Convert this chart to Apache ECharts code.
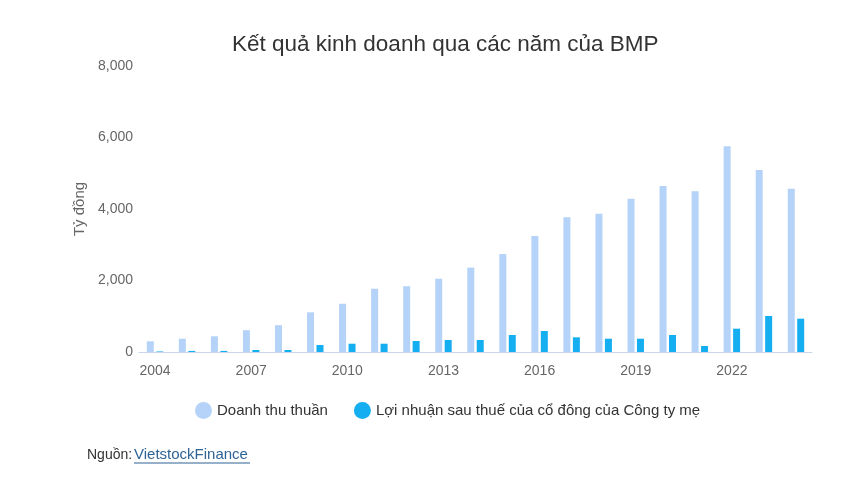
<!DOCTYPE html>
<html>
<head>
<meta charset="utf-8">
<script src="https://cdn.jsdelivr.net/npm/echarts@6/dist/echarts.min.js"></script>
<style>
  html, body { margin: 0; padding: 0; background: #fff; }
  #chart { width: 862px; height: 492px; }
</style>
</head>
<body>
<div id="chart"></div>
<script>
// số liệu (tỷ đồng)
var years = ['2004','2005','2006','2007','2008','2009','2010','2011','2012','2013','2014',
             '2015','2016','2017','2018','2019','2020','2021','2022','2023','2024'];
var doanhThu = [300, 370, 440, 610, 750, 1110, 1350, 1770, 1840, 2050, 2360,
                2740, 3245, 3767, 3870, 4290, 4643, 4495, 5753, 5090, 4568];
var loiNhuan = [15, 30, 30, 56, 56, 196, 232, 232, 308, 336, 336,
                475, 587, 411, 372, 372, 475, 168, 652, 1007, 931];
var yTicks = [0, 2000, 4000, 6000, 8000];

var myChart = echarts.init(document.getElementById('chart'));
var font = 'Liberation Sans, Arial, sans-serif';

var option = {
  animation: false,
  textStyle: { fontFamily: font },
  title: {
    text: 'Kết quả kinh doanh qua các năm của BMP',
    left: 227,
    top: 28,
    textStyle: { fontSize: 22.5, fontWeight: 'normal', color: '#333', fontFamily: font }
  },
  legend: {
    data: ['Doanh thu thuần', 'Lợi nhuận sau thuế của cổ đông của Công ty mẹ'],
    bottom: 68,
    left: 190,
    icon: 'circle',
    itemWidth: 17,
    itemHeight: 17,
    itemGap: 26,
    textStyle: { fontSize: 15, color: '#333', fontFamily: font }
  },
  grid: { left: 139, right: 50, top: 66, bottom: 140 },
  xAxis: {
    type: 'category',
    data: years,
    axisLine: { lineStyle: { color: '#ccd6eb' } },
    axisTick: { show: false },
    axisLabel: {
      interval: 2,
      color: '#666',
      fontSize: 14,
      margin: 12
    }
  },
  yAxis: {
    type: 'value',
    min: yTicks[0],
    max: yTicks[yTicks.length - 1],
    interval: 2000,
    name: 'Tỷ đồng',
    nameLocation: 'middle',
    nameGap: 52,
    nameTextStyle: { color: '#666', fontSize: 15 },
    splitLine: { show: false },
    axisLine: { show: false },
    axisTick: { show: false },
    axisLabel: {
      color: '#666',
      fontSize: 14,
      margin: 6,
      formatter: function (v) { return v.toLocaleString('en-US'); }
    }
  },
  series: [
    {
      name: 'Doanh thu thuần',
      type: 'bar',
      data: doanhThu,
      barWidth: 7,
      barGap: '35%',
      itemStyle: { color: '#b5d3f8' }
    },
    {
      name: 'Lợi nhuận sau thuế của cổ đông của Công ty mẹ',
      type: 'bar',
      data: loiNhuan,
      barWidth: 7,
      itemStyle: { color: '#15aef0' }
    }
  ],
  graphic: [
    {
      type: 'text',
      left: 87,
      top: 448,
      style: {
        text: 'Nguồn:',
        fill: '#333',
        font: '14px ' + font
      }
    },
    {
      type: 'text',
      left: 134,
      top: 447,
      style: {
        text: 'VietstockFinance',
        fill: '#2f6395',
        font: '15px ' + font
      }
    },
    {
      type: 'line',
      shape: { x1: 134, y1: 463, x2: 250, y2: 463 },
      style: { stroke: '#2f6395', lineWidth: 1 }
    }
  ]
};

myChart.setOption(option);
</script>
</body>
</html>
